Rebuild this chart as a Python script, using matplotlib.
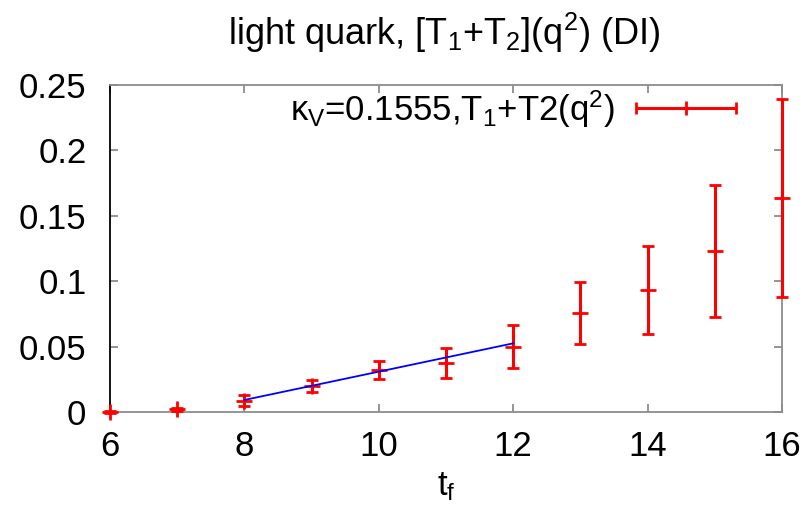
import matplotlib
matplotlib.use("Agg")
import matplotlib.pyplot as plt
import numpy as np
from matplotlib.ticker import FuncFormatter
from matplotlib.legend_handler import HandlerErrorbar

plt.rcParams['font.family'] = ['Liberation Sans', 'DejaVu Sans']
plt.rcParams['mathtext.fontset'] = 'custom'
plt.rcParams['mathtext.rm'] = 'Liberation Sans'
plt.rcParams['mathtext.it'] = 'Liberation Sans'
plt.rcParams['mathtext.bf'] = 'Liberation Sans'

# data
t_f = [6, 7, 8, 9, 10, 11, 12, 13, 14, 15, 16]
values = [0.0, 0.002, 0.0087, 0.0199, 0.0321, 0.0372, 0.0499, 0.0759, 0.0933, 0.1231, 0.1634]
errors = [0.0005, 0.001, 0.004, 0.0043, 0.007, 0.0115, 0.0166, 0.0238, 0.0338, 0.0502, 0.0758]
fit_t = [8, 12]
fit_values = [0.0092, 0.0525]
xticks = [6, 8, 10, 12, 14, 16]
yticks = [0, 0.05, 0.1, 0.15, 0.2, 0.25]

W, H = 811, 513
fig = plt.figure(figsize=(W / 100, H / 100), dpi=100)
ax = fig.add_axes([110 / W, (H - 412) / H, (782 - 110) / W, (412 - 85) / H])

grey = '#8c8c8c'
red = '#ff0000'
cont = ax.errorbar(t_f, values, yerr=errors, fmt='+', color=red, ecolor=red,
                   markersize=12, markeredgewidth=2.0, elinewidth=2.2, capsize=4, capthick=2.2,
                   clip_on=False, zorder=3)
for art in list(cont.lines[1]) + list(cont.lines[2]):
    art.set_clip_on(False)
ax.plot(fit_t, fit_values, color='#0000ff', linewidth=1.3, zorder=4)

# legend proxy (horizontal error bar sample like gnuplot)
proxy = ax.errorbar([np.nan], [np.nan], xerr=[1], fmt='+', color=red, markersize=10,
                    markeredgewidth=2.0, elinewidth=2.2, capsize=4, capthick=2.2)
fs = 25
leg = ax.legend([proxy], [r'$\kappa_\mathrm{V}$=0.1555,T$_1$+T2(q$^2$)'],
                handler_map={type(proxy): HandlerErrorbar(xerr_size=1.44)},
                loc='center right', bbox_to_anchor=((736 - 110) / 672, (412 - 109) / 327),
                frameon=False, markerfirst=False, fontsize=fs, handlelength=2.88,
                handletextpad=0.6, borderpad=0, borderaxespad=0)

ax.set_xlim(6, 16)
ax.set_ylim(0, 0.25)
ax.set_xticks(xticks)
ax.set_yticks(yticks)
ax.yaxis.set_major_formatter(FuncFormatter(lambda v, p: '%g' % round(v, 4)))
ax.tick_params(direction='in', length=6, width=1.3, color=grey, labelsize=fs,
               top=True, right=True)
ax.tick_params(axis='y', pad=17)
ax.tick_params(axis='x', pad=13)
for s in ['top', 'right', 'bottom']:
    ax.spines[s].set_color(grey)
    ax.spines[s].set_linewidth(1.3)
ax.spines['left'].set_color('black')
ax.spines['left'].set_linewidth(1.3)

ax.set_xlabel(r't$_\mathrm{f}$', fontsize=fs, labelpad=5)
fig.text(444 / W, (H - 45) / H, r'light quark, [T$_1$+T$_2$](q$^2$) (DI)', fontsize=fs + 1,
         ha='center', va='baseline')

fig.savefig('out.png', dpi=100)
